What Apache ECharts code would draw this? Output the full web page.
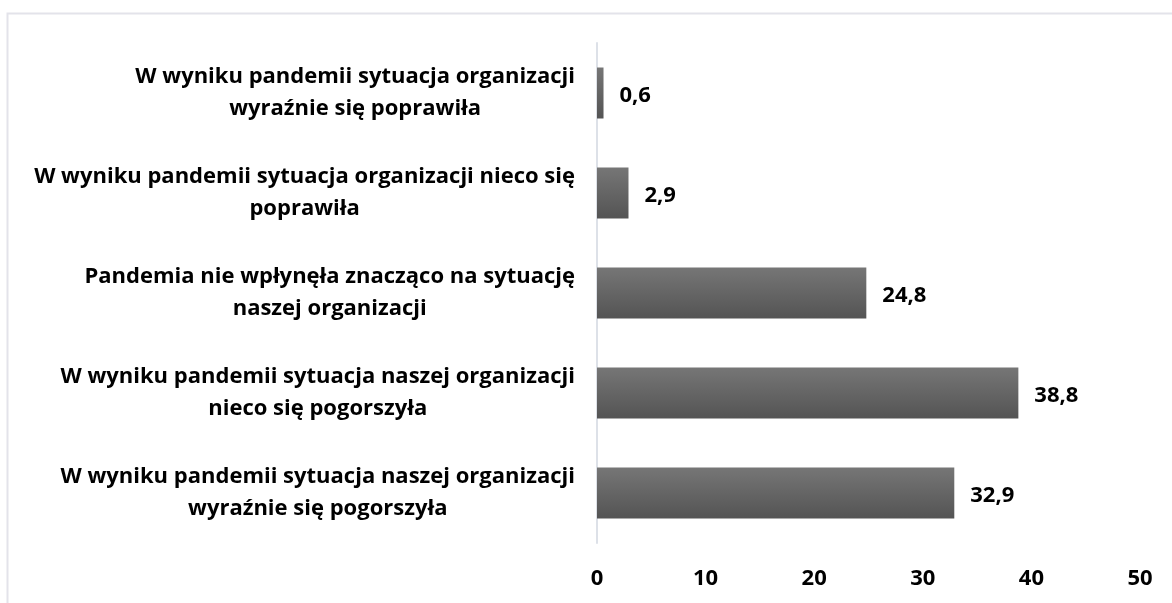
<!DOCTYPE html>
<html>
<head>
<meta charset="utf-8">
<script src="https://cdn.jsdelivr.net/npm/echarts@6/dist/echarts.min.js"></script>
<style>
html, body { margin: 0; padding: 0; background: #fff; }
#chart { width: 1172px; height: 603px; }
</style>
</head>
<body>
<div id="chart"></div>
<script>
// kategorie od gory do dolu
var categories = [
    'W wyniku pandemii sytuacja organizacji\nwyraźnie się poprawiła',
    'W wyniku pandemii sytuacja organizacji nieco się\npoprawiła',
    'Pandemia nie wpłynęła znacząco na sytuację\nnaszej organizacji',
    'W wyniku pandemii sytuacja naszej organizacji\nnieco się pogorszyła',
    'W wyniku pandemii sytuacja naszej organizacji\nwyraźnie się pogorszyła'
];
var values = [0.6, 2.9, 24.8, 38.8, 32.9];
var xTicks = [0, 10, 20, 30, 40, 50];

var font = 'Open Sans';
var chart = echarts.init(document.getElementById('chart'));

var option = {
    backgroundColor: '#fff',
    animation: false,
    graphic: [{
        type: 'rect',
        shape: { x: 7.5, y: 13.5, width: 1200, height: 700 },
        style: { fill: 'none', stroke: '#e3e3ea', lineWidth: 2 },
        silent: true
    }],
    grid: { left: 597, right: 32, top: 43, bottom: 60 },
    xAxis: {
        type: 'value',
        min: xTicks[0],
        max: xTicks[xTicks.length - 1],
        interval: xTicks[1] - xTicks[0],
        axisLine: { show: false },
        axisTick: { show: false },
        splitLine: { show: false },
        axisLabel: {
            margin: 25,
            color: '#000',
            fontFamily: font,
            fontWeight: 'bold',
            fontSize: 22
        }
    },
    yAxis: {
        type: 'category',
        inverse: true,
        data: categories,
        axisLine: { show: true, lineStyle: { color: '#dde1e8', width: 2 } },
        axisTick: { show: false },
        axisLabel: {
            margin: 22,
            align: 'right',
            lineHeight: 32,
            formatter: function (v) { return '{c|' + v + '}'; },
            rich: {
                c: {
                    align: 'center',
                    color: '#000',
                    fontFamily: font,
                    fontWeight: 'bold',
                    fontSize: 22,
                    lineHeight: 32
                }
            }
        }
    },
    series: [{
        type: 'bar',
        data: values,
        barWidth: 51,
        itemStyle: {
            color: new echarts.graphic.LinearGradient(0, 0, 0, 1, [
                { offset: 0, color: '#767676' },
                { offset: 1, color: '#545454' }
            ])
        },
        label: {
            show: true,
            position: 'right',
            distance: 16,
            offset: [0, 3],
            color: '#000',
            fontFamily: font,
            fontWeight: 'bold',
            fontSize: 22,
            formatter: function (p) { return String(p.value).replace('.', ','); }
        }
    }]
};

chart.setOption(option);
</script>
</body>
</html>
